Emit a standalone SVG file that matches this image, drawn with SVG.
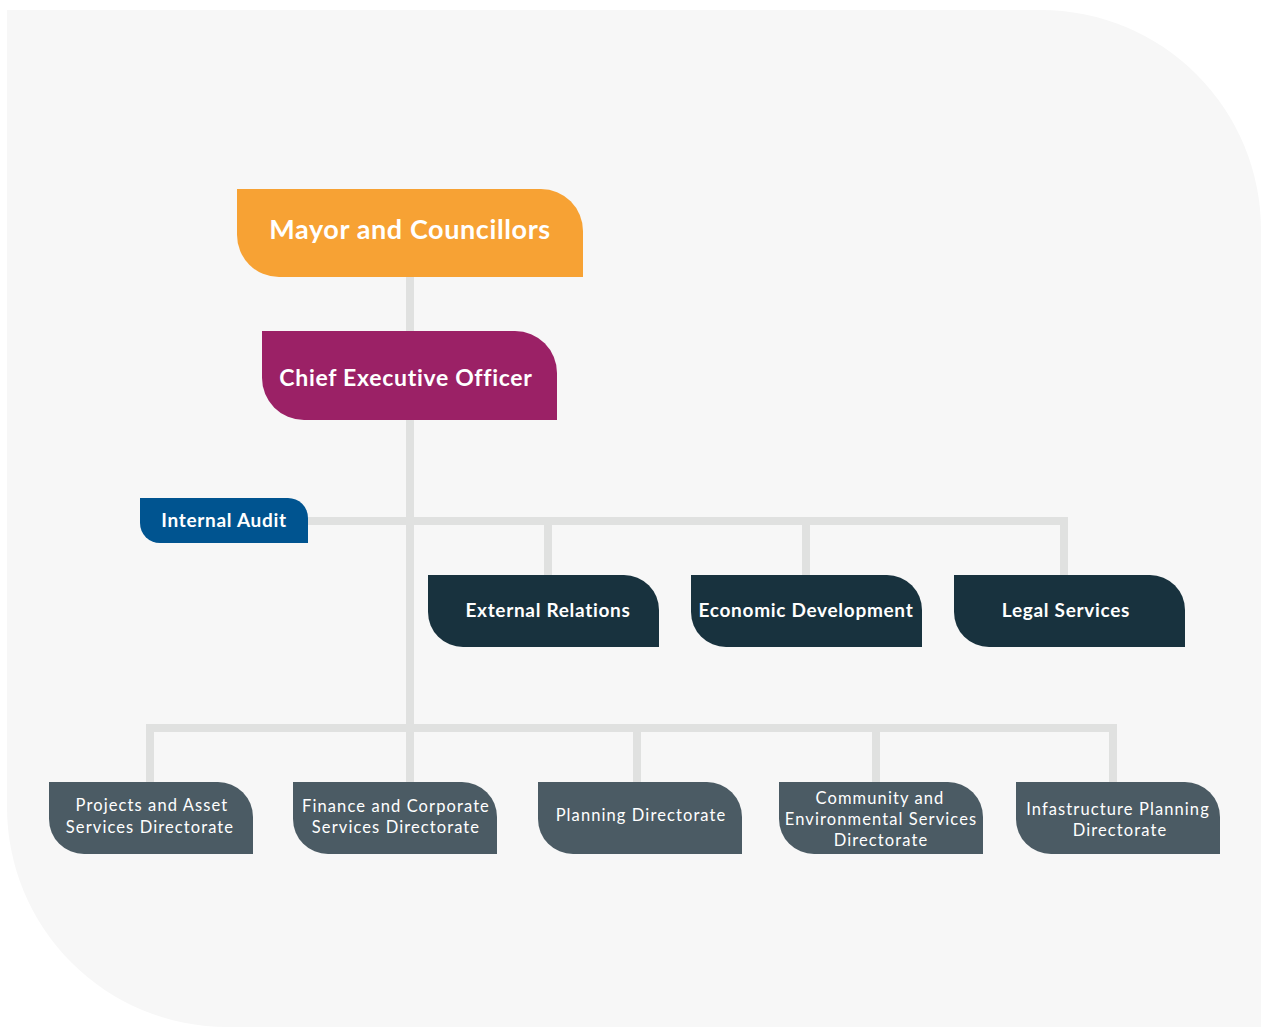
<svg xmlns="http://www.w3.org/2000/svg" width="1261" height="1027" viewBox="0 0 1261 1027">
  <style>
    .conn { fill: none; stroke: #e0e1e0; stroke-width: 8; stroke-linejoin: miter; stroke-linecap: butt; }
    .t { font-family: Lato, "Open Sans", "Liberation Sans", sans-serif; fill: #ffffff; text-anchor: middle; }
    .b { font-weight: 700; }
    .top { font-size: 27px; letter-spacing: 0.6px; }
    .ceo { font-size: 23px; letter-spacing: 0.7px; }
    .mid { font-size: 19px; letter-spacing: 0.7px; }
    .low { font-size: 16.5px; letter-spacing: 1.1px; }
  </style>
  <rect x="0" y="0" width="1261" height="1027" fill="#ffffff"/>
  <path d="M7,10 H1041 A220,220 0 0 1 1261,230 V1027 H227 A220,220 0 0 1 7,807 Z" fill="#f7f7f7"/>

  <g id="connectors">
    <line class="conn" x1="410" y1="277" x2="410" y2="331"/>
    <line class="conn" x1="410" y1="420" x2="410" y2="782"/>
    <polyline class="conn" points="308,521 1064,521 1064,575"/>
    <line class="conn" x1="548" y1="521" x2="548" y2="575"/>
    <line class="conn" x1="806" y1="521" x2="806" y2="575"/>
    <polyline class="conn" points="150,782 150,728 1113,728 1113,782"/>
    <line class="conn" x1="637" y1="728" x2="637" y2="782"/>
    <line class="conn" x1="876" y1="728" x2="876" y2="782"/>
  </g>

  <g id="mayor">
    <path d="M237,189 H541 A42,42 0 0 1 583,231 V277 H279 A42,42 0 0 1 237,235 Z" fill="#f7a234"/>
    <text class="t b top" x="410" y="239">Mayor and Councillors</text>
  </g>
  <g id="ceo">
    <path d="M262,331 H515 A42,42 0 0 1 557,373 V420 H304 A42,42 0 0 1 262,378 Z" fill="#9b2166"/>
    <text class="t b ceo" x="406" y="386">Chief Executive Officer</text>
  </g>
  <g id="internal-audit">
    <path d="M140,498 H288 A20,20 0 0 1 308,518 V543 H160 A20,20 0 0 1 140,523 Z" fill="#005490"/>
    <text class="t b mid" x="224" y="527">Internal Audit</text>
  </g>
  <g id="external-relations">
    <path d="M428,575 H624 A35,35 0 0 1 659,610 V647 H463 A35,35 0 0 1 428,612 Z" fill="#18323e"/>
    <text class="t b mid" x="548" y="617">External Relations</text>
  </g>
  <g id="economic-development">
    <path d="M691,575 H887 A35,35 0 0 1 922,610 V647 H726 A35,35 0 0 1 691,612 Z" fill="#18323e"/>
    <text class="t b mid" x="806" y="617">Economic Development</text>
  </g>
  <g id="legal-services">
    <path d="M954,575 H1150 A35,35 0 0 1 1185,610 V647 H989 A35,35 0 0 1 954,612 Z" fill="#18323e"/>
    <text class="t b mid" x="1066" y="617">Legal Services</text>
  </g>
  <g id="projects-asset">
    <path d="M49,782 H218 A35,35 0 0 1 253,817 V854 H84 A35,35 0 0 1 49,819 Z" fill="#4b5b64"/>
    <text class="t low" x="152" y="811">Projects and Asset</text>
    <text class="t low" x="150" y="833">Services Directorate</text>
  </g>
  <g id="finance-corporate">
    <path d="M293,782 H462 A35,35 0 0 1 497,817 V854 H328 A35,35 0 0 1 293,819 Z" fill="#4b5b64"/>
    <text class="t low" x="396" y="812">Finance and Corporate</text>
    <text class="t low" x="396" y="833">Services Directorate</text>
  </g>
  <g id="planning">
    <path d="M538,782 H707 A35,35 0 0 1 742,817 V854 H573 A35,35 0 0 1 538,819 Z" fill="#4b5b64"/>
    <text class="t low" x="641" y="821">Planning Directorate</text>
  </g>
  <g id="community-environmental">
    <path d="M779,782 H948 A35,35 0 0 1 983,817 V854 H814 A35,35 0 0 1 779,819 Z" fill="#4b5b64"/>
    <text class="t low" x="880" y="804">Community and</text>
    <text class="t low" x="881" y="825">Environmental Services</text>
    <text class="t low" x="881" y="846">Directorate</text>
  </g>
  <g id="infrastructure-planning">
    <path d="M1016,782 H1185 A35,35 0 0 1 1220,817 V854 H1051 A35,35 0 0 1 1016,819 Z" fill="#4b5b64"/>
    <text class="t low" x="1118" y="815">Infastructure Planning</text>
    <text class="t low" x="1120" y="836">Directorate</text>
  </g>
</svg>
